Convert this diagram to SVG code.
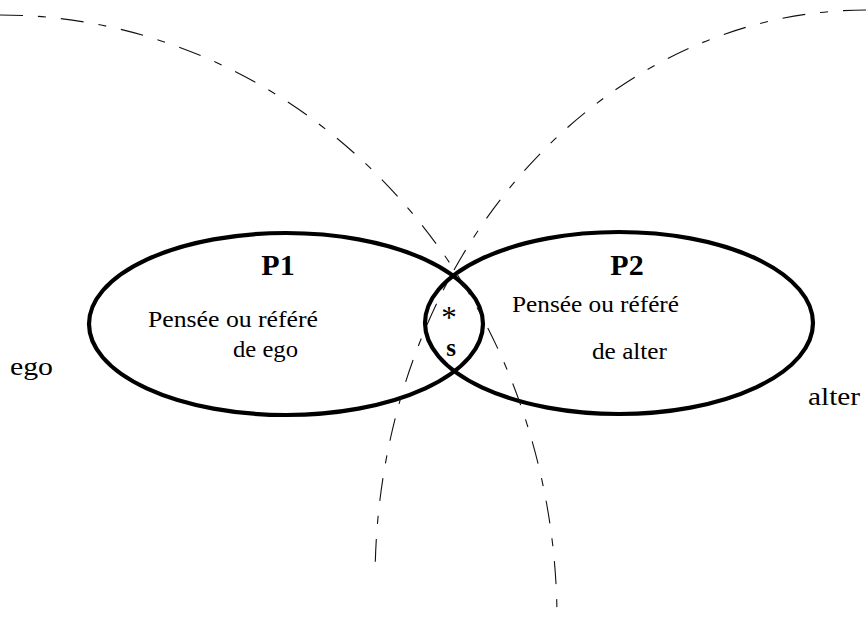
<svg xmlns="http://www.w3.org/2000/svg" width="866" height="618" viewBox="0 0 866 618">
<style>
.ell{fill:none;stroke:#000;stroke-width:4.2}
.arc{fill:none;stroke:#111;stroke-width:1.1;stroke-dasharray:23 15 8 15}
.t{font-family:"Liberation Serif","Times New Roman",serif;fill:#000}
.b{font-weight:bold}
</style>
<rect width="866" height="618" fill="#fff"/>
<g id="P1">
<ellipse class="ell" cx="286" cy="324" rx="197" ry="91"/>
<text class="t b" x="278" y="275" font-size="30" text-anchor="middle">P1</text>
<text class="t" x="148" y="327" font-size="24" textLength="170" lengthAdjust="spacingAndGlyphs">Pensée ou référé</text>
<text class="t" x="233" y="357" font-size="24" textLength="65" lengthAdjust="spacingAndGlyphs">de ego</text>
</g>
<g id="P2">
<ellipse class="ell" cx="619" cy="323" rx="194" ry="91"/>
<text class="t b" x="627" y="275" font-size="30" text-anchor="middle">P2</text>
<text class="t" x="512" y="312" font-size="24" textLength="167" lengthAdjust="spacingAndGlyphs">Pensée ou référé</text>
<text class="t" x="592" y="359" font-size="24" textLength="75" lengthAdjust="spacingAndGlyphs">de alter</text>
</g>
<g id="S">
<text class="t" x="449" y="328" font-size="31" text-anchor="middle">*</text>
<text class="t b" x="451" y="356" font-size="25" text-anchor="middle">s</text>
</g>
<g id="ego">
<text class="t" x="10" y="375" font-size="26" textLength="43" lengthAdjust="spacingAndGlyphs">ego</text>
</g>
<g id="alter">
<text class="t" x="808" y="405" font-size="26" textLength="52" lengthAdjust="spacingAndGlyphs">alter</text>
</g>
<g id="connectors">
<path class="arc" d="M 0 15 A 557 605 0 0 1 557 617"/>
<path class="arc" d="M 866 10 A 491 570 0 0 0 375.2 566"/>
</g>
</svg>
